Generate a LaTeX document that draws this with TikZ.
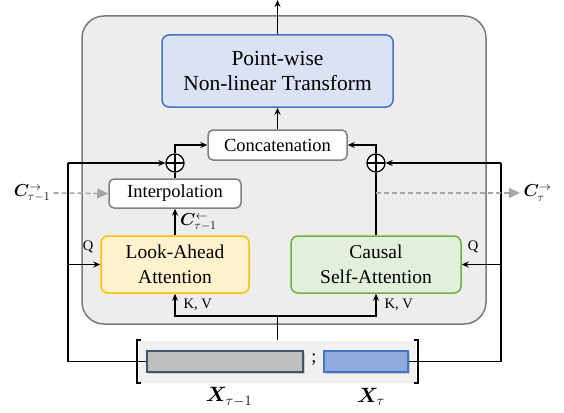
\documentclass[tikz,border=0pt]{standalone}
\usepackage{fontspec}
\setmainfont{Liberation Serif}
\usepackage{amsmath,bm}
\usetikzlibrary{arrows.meta,shadows,calc}
\definecolor{bgfill}{HTML}{EDEDED}
\definecolor{bgline}{HTML}{7A7A7A}
\definecolor{pwfill}{HTML}{DAE3F3}
\definecolor{pwline}{HTML}{4472C4}
\definecolor{lafill}{HTML}{FFF2CC}
\definecolor{laline}{HTML}{FFC000}
\definecolor{csfill}{HTML}{E2EFDA}
\definecolor{csline}{HTML}{70AD47}
\definecolor{boxline}{HTML}{808080}
\definecolor{dashc}{HTML}{A6A6A6}
\definecolor{barone}{HTML}{BFBFBF}
\definecolor{baroneline}{HTML}{44546A}
\definecolor{bartwo}{HTML}{8FAADC}
\begin{document}
\begin{tikzpicture}[x=1pt,y=-1pt,
  box/.style={draw, rounded corners=7pt, line width=1.5pt, align=center, inner sep=0pt},
  pwtxt/.style={font=\fontsize{21.5}{25}\selectfont},
  bigtxt/.style={font=\fontsize{19.5}{25}\selectfont},
  midtxt/.style={font=\fontsize{18.5}{22}\selectfont},
  smalltxt/.style={font=\fontsize{14.5}{16}\selectfont},
  mathtxt/.style={font=\fontsize{18}{20}\selectfont},
  xtxt/.style={font=\fontsize{21}{24}\selectfont},
  wire/.style={line width=1.8pt},
  arr/.style={line width=1.8pt, -{Stealth[length=7pt,width=6pt]}},
  dasharr/.style={dashc, line width=1.6pt, dash pattern=on 5pt off 3pt, -{Triangle[length=11pt,width=10pt]}},
  oplusnode/.style={circle, draw, line width=1.3pt, minimum size=18pt, inner sep=0pt, fill=white,
    path picture={\draw[line width=1.1pt] (path picture bounding box.north) -- (path picture bounding box.south)
      (path picture bounding box.west) -- (path picture bounding box.east);}}
]
\useasboundingbox (0,0) rectangle (564,412);
% big background
\draw[bgline, fill=bgfill, line width=1.5pt, rounded corners=22pt] (82,16) rectangle (486,324);
% boxes
\node[box, draw=pwline, fill=pwfill, minimum width=231pt, minimum height=72pt, pwtxt] (pw) at (277.5,71) {Point-wise\\Non-linear Transform};
\node[box, draw=boxline, fill=white, minimum width=139pt, minimum height=30pt, midtxt, rounded corners=5pt] (cc) at (277.5,145) {Concatenation};
\node[box, draw=boxline, fill=white, minimum width=132pt, minimum height=29pt, midtxt, rounded corners=5pt] (ip) at (175,193.5) {Interpolation};
\node[box, draw=laline, fill=lafill, minimum width=148pt, minimum height=57pt, bigtxt] (la) at (175,264.5) {Look-Ahead\\Attention};
\node[box, draw=csline, fill=csfill, minimum width=170pt, minimum height=57pt, bigtxt] (cs) at (376,264.5) {Causal\\Self-Attention};
\node[oplusnode] (opL) at (175,163) {};
\node[oplusnode] (opR) at (376,163) {};
% input area
\node[fill=black!6, minimum width=277pt, minimum height=42pt, inner sep=0pt] (bg) at (277.5,361.5) {};
\draw[line width=1.3pt] (141,340) -- (137,340) -- (137,383) -- (141,383);
\draw[line width=1.3pt] (414,340) -- (418,340) -- (418,383) -- (414,383);
\node[draw=baroneline, fill=barone, line width=1.6pt, minimum width=156pt, minimum height=21pt, inner sep=0pt,
  drop shadow={opacity=0.35, shadow xshift=1.5pt, shadow yshift=-1.5pt}] (b1) at (225,361.5) {};
\node[draw=pwline, fill=bartwo, line width=1.6pt, minimum width=84pt, minimum height=21pt, inner sep=0pt,
  drop shadow={opacity=0.35, shadow xshift=1.5pt, shadow yshift=-1.5pt}] (b2) at (366,361.5) {};
\node[midtxt] (semi) at (314,360) {;};
\node[xtxt] (xl) at (229,397) {$\bm{X}_{\tau-1}$};
\node[xtxt] (xr) at (371,397) {$\bm{X}_{\tau}$};
% top output
\coordinate (top) at (277.5,0);
\draw[arr] (pw.north) -- (top);
\draw[arr] (cc.north) -- (pw.south);
% plus to concat
\draw[arr] (opL.north) |- (cc.west);
\draw[arr] (opR.north) |- (cc.east);
\draw[wire] (ip.north) -- (opL.south);
\draw[wire] (cs.north) -- (opR.south);
\draw[arr] (la.north) -- (ip.south) node[midway, right=1pt, mathtxt] (cl) {$\bm{C}^{\leftarrow}_{\tau-1}$};
% K,V
\coordinate (kv) at (277.5,316);
\draw[wire] (bg.north) -- (kv);
\draw[arr] (kv) -| (la.south);
\draw[arr] (kv) -| (cs.south);
\node[smalltxt, anchor=west] (kvl) at (180,305) {K, V};
\node[smalltxt, anchor=west] (kvr) at (381,305) {K, V};
% left wire
\coordinate (Lt) at (68,163);
\coordinate (Rt) at (501,163);
\draw[wire] (b1.west) -| (Lt);
\draw[arr] (Lt) -- (opL.west);
\draw[arr] (Lt |- la.west) -- (la.west);
\draw[wire] (b2.east) -| (Rt);
\draw[arr] (Rt) -- (opR.east);
\draw[arr] (Rt |- cs.west) -- (cs.east);
\node[smalltxt] (ql) at (88,247) {Q};
\node[smalltxt] (qr) at (473,247) {Q};
% dashed
\node[mathtxt] (cin) at (32,193) {$\bm{C}^{\rightarrow}_{\tau-1}$};
\draw[dasharr] (cin.east) -- (ip.west);
\coordinate (dr) at (376,193);
\node[mathtxt, anchor=west] (cout) at (520,193) {$\bm{C}^{\rightarrow}_{\tau}$};
\draw[dasharr] (dr) -- (cout.west);
\end{tikzpicture}
\end{document}
